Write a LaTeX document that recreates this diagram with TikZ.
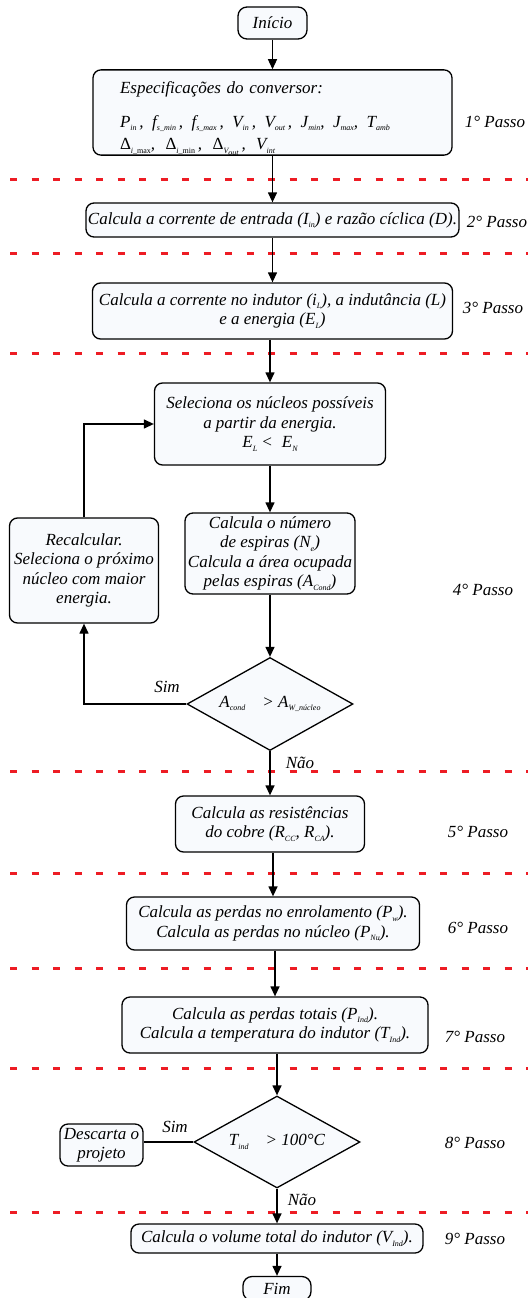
\documentclass[tikz,border=0pt]{standalone}
\usepackage{fontspec}
\setmainfont{Liberation Serif}
\usetikzlibrary{shapes.geometric, arrows.meta}
\definecolor{boxfill}{RGB}{248,250,253}
\definecolor{sepred}{RGB}{237,28,36}
\newcommand{\sbs}[1]{\raisebox{-0.45ex}{\fontsize{8}{8}\selectfont #1}}
\tikzstyle{term_op} = [rectangle, rounded corners=9pt, draw=black, line width=1.3pt, fill=boxfill, inner sep=0pt, text centered]
\tikzstyle{proc_op} = [rectangle, rounded corners=8pt, draw=black, line width=1.3pt, fill=boxfill, align=center, inner sep=0pt]
\tikzstyle{dec_op} = [diamond, aspect=1.8, draw=black, line width=1.3pt, fill=boxfill, inner sep=0pt, minimum width=166pt, minimum height=93pt]
\tikzstyle{arrow_op} = [line width=1.3pt, -{Triangle[length=10pt,width=9pt]}]
\tikzstyle{line_op} = [line width=1.3pt]
\tikzstyle{sep_line} = [draw=sepred, line width=3pt, dash pattern=on 7pt off 14.5pt]
\begin{document}
\begin{tikzpicture}[x=1pt, y=-1pt, font=\fontsize{17}{19.5}\selectfont\itshape]
\useasboundingbox (0,0) rectangle (528,1298);
% separadores dos passos
\foreach \yy in {179,253,353,771,873,968,1068,1212}
{
    \draw[sep_line] (10,\yy) -- (528,\yy);
}
% blocos
\node (inicio) [term_op, minimum width=69pt, minimum height=32pt] at (272.5,23) {Início};
\node (spec) [proc_op, align=left, text width=305pt, inner xsep=27pt, minimum height=85pt] at (272.5,112.5)
  {\rule{0pt}{24pt}Especificações do conversor:\\[14pt]
   P\sbs{in}\,,\, f\sbs{s\_min}\,,\, f\sbs{s\_max}\,,\, V\sbs{in}\,,\, V\sbs{out}\,,\, J\sbs{min},\, J\sbs{max},\, T\sbs{amb}\\[3pt]
   {\upshape Δ}\sbs{i\_\upshape max},\; {\upshape Δ}\sbs{i\_\upshape min}\,,\; {\upshape Δ}\sbs{V\sbs{out}}\,,\; V\sbs{int}};
\node (calc2) [proc_op, minimum width=373pt, minimum height=34pt] at (272.5,220)
  {Calcula a corrente de entrada (I\sbs{in}) e razão cíclica (D).};
\node (calc3) [proc_op, minimum width=360pt, minimum height=56pt] at (272.5,311)
  {Calcula a corrente no indutor (i\sbs{L}), a indutância (L)\\ e a energia (E\sbs{L})};
\node (selec) [proc_op, minimum width=231pt, minimum height=82pt] at (270,424)
  {Seleciona os núcleos possíveis\\ a partir da energia.\\ E\sbs{L} <\; E\sbs{N}};
\node (espiras) [proc_op, minimum width=170pt, minimum height=81pt] at (270,553.5)
  {Calcula o número\\ de espiras (N\sbs{e})\\ Calcula a área ocupada\\ pelas espiras (A\sbs{Cond})};
\node (recalc) [proc_op, minimum width=149pt, minimum height=105pt] at (84,570.5)
  {Recalcular.\\ Seleciona o próximo\\ núcleo com maior\\ energia.};
\node (dec1) [dec_op] at (270,704) {A\sbs{cond}\quad > A\sbs{W\_núcleo}};
\node (res) [proc_op, minimum width=189pt, minimum height=56pt] at (270,824)
  {Calcula as resistências\\ do cobre (R\sbs{CC}, R\sbs{CA}).};
\node (perdas) [proc_op, minimum width=293pt, minimum height=53pt] at (273,923.5)
  {Calcula as perdas no enrolamento (P\sbs{w}).\\ Calcula as perdas no núcleo (P\sbs{Nu}).};
\node (totais) [proc_op, minimum width=306pt, minimum height=56pt] at (275,1025)
  {Calcula as perdas totais (P\sbs{Ind}).\\ Calcula a temperatura do indutor (T\sbs{Ind}).};
\node (dec2) [dec_op, minimum height=92pt] at (277,1142) {T\sbs{ind}\quad > 100°C};
\node (descarta) [proc_op, minimum width=83pt, minimum height=42pt] at (101.5,1145)
  {Descarta o\\ projeto};
\node (volume) [proc_op, minimum width=292pt, minimum height=29pt] at (277,1238.5)
  {Calcula o volume total do indutor (V\sbs{Ind}).};
\node (fim) [term_op, minimum width=68pt, minimum height=24pt] at (277,1288.5) {Fim};
% passos
\foreach \n/\px/\py in {1/495/122, 2/497/222, 3/493/308, 4/483/590, 5/478/832, 6/478/928, 7/475/1037, 8/475/1143, 9/475/1239}
{
    \node (passo\n) at (\px,\py) {\n° Passo};
}
% rotulos
\node (sim1) at (167,687) {Sim};
\node (nao1) at (300,763) {Não};
\node (sim2) at (175,1127) {Sim};
\node (nao2) at (302,1200) {Não};
% ligacoes
\draw[arrow_op] (inicio) -- (spec);
\draw[arrow_op] (spec) -- (calc2);
\draw[arrow_op] (calc2) -- (calc3);
\draw[arrow_op] (calc3.south -| selec.north) -- (selec.north);
\draw[arrow_op] (selec) -- (espiras);
\draw[arrow_op] (espiras) -- (dec1);
\draw[arrow_op] (dec1.west) -| (recalc.south);
\draw[arrow_op] (recalc.north) |- (selec.west);
\draw[arrow_op] (dec1.south) -- (res.north);
\draw[arrow_op] (res.south -| perdas.north) -- (perdas.north);
\draw[arrow_op] (perdas.south -| totais.north) -- (totais.north);
\draw[arrow_op] (totais.south -| dec2.north) -- (dec2.north);
\draw[line_op] (dec2.west) -- (dec2.west -| descarta.east);
\draw[arrow_op] (dec2.south) -- (volume.north);
\draw[arrow_op] (volume) -- (fim);
\end{tikzpicture}
\end{document}
